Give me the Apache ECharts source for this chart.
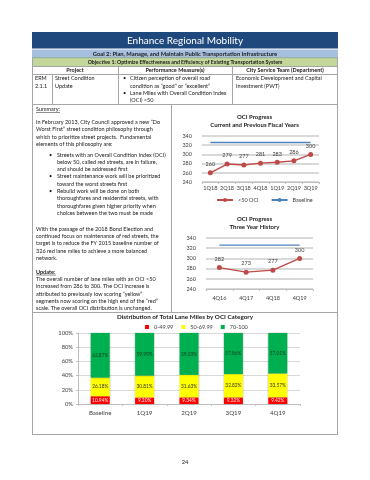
<!DOCTYPE html>
<html><head><meta charset="utf-8">
<script src="https://cdn.jsdelivr.net/npm/echarts@6/dist/echarts.min.js"></script>
<style>html,body{margin:0;padding:0;background:#fff}#c{width:370px;height:480px}</style>
</head><body><div id="c"></div>
<script>
// ---- data ----
const fiscalQuarters = ['1Q18','2Q18','3Q18','4Q18','1Q19','2Q19','3Q19'];
const fiscalOci = [260,279,277,281,283,286,300];
const fiscalBaseline = [326,326,326,326,326,326,326];
const historyYears = ['4Q16','4Q17','4Q18','4Q19'];
const historyOci = [282,273,277,300];
const historyBaseline = [326,326,326,326];
const distCategories = ['Baseline','1Q19','2Q19','3Q19','4Q19'];
const distRed = [10.94,9.20,9.34,9.32,9.42];
const distYellow = [26.18,30.81,31.63,32.82,33.57];
const distGreen = [62.87,59.99,59.03,57.86,57.01];
const ociAxis = {min:240,max:340,interval:20};
const pctAxis = {min:0,max:100,interval:20};

// ---- document graphics ----
const FONT = 'Lato, "Open Sans", sans-serif';
const G = [];
function rect(x,y,w,h,fill){G.push({type:'rect',shape:{x:x,y:y,width:w,height:h},style:{fill:fill},silent:true,z:1});}
function ln(x1,y1,x2,y2,c,w){G.push({type:'line',shape:{x1:x1,y1:y1,x2:x2,y2:y2},style:{stroke:c||'#a6a6a6',lineWidth:w||1},silent:true,z:2});}
function txt(x,y,s,o){o=o||{};G.push({type:'text',x:x,y:y,style:{text:s,fontSize:o.size||5.5,fontFamily:FONT,fontWeight:o.bold?'bold':'normal',fill:o.color||'#1a1a1a',align:o.align||'left',verticalAlign:'middle'},silent:true,z:10});}
function lines(x,y0,dy,arr,o){arr.forEach(function(s,i){txt(x,y0+i*dy,s,o);});}

// header bands
rect(32,32,306,16.5,'#1f497d');
txt(185,40.5,'Enhance Regional Mobility',{size:10,color:'#ffffff',align:'center'});
rect(32,49.5,306,8.5,'#a7bfde');
ln(32,58,338,58,'#7f9f4f',0.8);
txt(185,54,'Goal 2: Plan, Manage, and Maintain Public Transportation Infrastructure',{size:5.8,bold:true,align:'center'});
rect(32,58.5,306,7.5,'#c4d79b');
txt(185,62.3,'Objective 1: Optimize Effectiveness and Efficiency of Existing Transportation System',{size:5.2,bold:true,align:'center'});

// table lines
[66.5,74.5,104.5,312.5,434.5].forEach(function(y){ln(32,y,338,y);});
ln(32.5,58,32.5,434.5); ln(337.5,58,337.5,434.5);
ln(52.5,74.5,52.5,104.5); ln(118.5,66.5,118.5,104.5); ln(232.5,66.5,232.5,104.5);
ln(171.5,104.5,171.5,312.5);

// table header
txt(75,70.5,'Project',{bold:true,align:'center'});
txt(175,70.5,'Performance Measure(s)',{bold:true,align:'center'});
txt(285,70.5,'City Service Team (Department)',{bold:true,align:'center'});
// table row
lines(35,78.5,7.3,['ERM','2.1.1']);
lines(55,78.5,7.3,['Street Condition','Update']);
txt(123,78.5,'\u2022'); txt(123,93,'\u2022');
lines(130,78.5,7.3,['Citizen perception of overall road','condition as \u201cgood\u201d or \u201cexcellent\u201d','Lane Miles with Overall Condition Index','(OCI) <50']);
lines(236,78.5,7.3,['Economic Development and Capital','Investment (PWT)']);

// summary
txt(36,109.5,'Summary:'); ln(36,112.5,60,112.5,'#1a1a1a',0.5);
lines(36,122,7.4,['In February 2013, City Council approved a new \u201cDo','Worst First\u201d street condition philosophy through','which to prioritize street projects.  Fundamental','elements of this philosophy are:']);
[0,3,5].forEach(function(i){txt(49,154.8+i*7.3,'\u2022');});
lines(57,154.8,7.3,['Streets with an Overall Condition Index (OCI)','below 50, called red streets, are in failure,','and should be addressed first','Street maintenance work will be prioritized','toward the worst streets first','Rebuild work will be done on both','thoroughfares and residential streets, with','thoroughfares given higher priority when','choices between the two must be made']);
lines(36,229,7.3,['With the passage of the 2018 Bond Election and','continued focus on maintenance of red streets, the','target is to reduce the FY 2015 baseline number of','326 red lane miles to achieve a more balanced','network.']);
txt(36,272,'Update:',{bold:true}); ln(36,275,56,275,'#1a1a1a',0.5);
lines(36,279.5,7.2,['The overall number of lane miles with an OCI <50','increased from 286 to 300. The OCI increase is','attributed to previously low scoring \u201cyellow\u201d','segments now scoring on the high end of the \u201cred\u201d','scale. The overall OCI distribution is unchanged.']);

// chart titles
txt(254.5,117,'OCI Progress',{bold:true,align:'center',size:6});
txt(254.5,125.5,'Current and Previous Fiscal Years',{bold:true,align:'center',size:6});
txt(254.5,219.5,'OCI Progress',{bold:true,align:'center',size:6});
txt(254.5,227.5,'Three Year History',{bold:true,align:'center',size:6});
txt(185,317,'Distribution of Total Lane Miles by OCI Category',{bold:true,align:'center',size:6.3});
txt(185,462,'24',{align:'center',size:5.8});

// ---- chart ----
const axLabel = {fontSize:5.5,color:'#404040',fontFamily:FONT};
function ociY(g){return {type:'value',gridIndex:g,min:ociAxis.min,max:ociAxis.max,interval:ociAxis.interval,
  axisLine:{show:false},axisTick:{show:false},axisLabel:Object.assign({margin:10},axLabel),
  splitLine:{lineStyle:{color:'#d9d9d9',width:2}}};}
function catX(g,data,m,fs){return {type:'category',gridIndex:g,data:data,
  axisLine:{lineStyle:{color:'#bfbfbf'}},axisTick:{show:true,length:2,lineStyle:{color:'#bfbfbf'}},
  axisLabel:Object.assign({},axLabel,{margin:m,fontSize:fs||5.5,interval:0})};}
const ptLabel = {show:true,position:'top',distance:3,fontSize:5.5,color:'#404040',fontFamily:FONT};
const redLine = {color:'#be4b48',width:1.4};
const blueLine = {color:'#4f81bd',width:1.4};

const chart = echarts.init(document.getElementById('c'),null,{renderer:'canvas'});
chart.setOption({
  animation:false,
  textStyle:{fontFamily:FONT},
  graphic:G,
  grid:[
    {left:202,top:136,width:117,height:46},
    {left:206,top:238,width:107,height:51},
    {left:78,top:333,width:222,height:71}
  ],
  xAxis:[catX(0,fiscalQuarters,3),catX(1,historyYears,6),catX(2,distCategories,6,6.2)],
  yAxis:[ociY(0),ociY(1),
    {type:'value',gridIndex:2,min:pctAxis.min,max:pctAxis.max,interval:pctAxis.interval,
     axisLine:{show:true,lineStyle:{color:'#bfbfbf'}},axisTick:{show:true,length:2,lineStyle:{color:'#bfbfbf'}},
     axisLabel:Object.assign({margin:5,formatter:'{value}%'},axLabel,{fontSize:5.8}),
     splitLine:{lineStyle:{color:'#d9d9d9',width:1}}}],
  legend:[
    {data:['<50 OCI','Baseline'],left:216,top:197,padding:0,itemWidth:16,itemHeight:5,itemGap:12,
     textStyle:{fontSize:5.5,color:'#404040',fontFamily:FONT}},
    {data:['0-49.99','50-69.99','70-100'],left:145,top:324,padding:0,icon:'rect',itemWidth:4,itemHeight:4,itemGap:8,
     textStyle:{fontSize:5.5,color:'#404040',fontFamily:FONT}}
  ],
  series:[
    {name:'<50 OCI',type:'line',xAxisIndex:0,yAxisIndex:0,data:fiscalOci,symbol:'circle',symbolSize:5,
     lineStyle:redLine,itemStyle:{color:'#be4b48'},label:ptLabel,z:5},
    {name:'Baseline',type:'line',xAxisIndex:0,yAxisIndex:0,data:fiscalBaseline,symbol:'none',
     lineStyle:blueLine,itemStyle:{color:'#4f81bd'},z:4},
    {name:'History <50 OCI',type:'line',xAxisIndex:1,yAxisIndex:1,data:historyOci,symbol:'circle',symbolSize:5,
     lineStyle:redLine,itemStyle:{color:'#be4b48'},label:ptLabel,z:5},
    {name:'History Baseline',type:'line',xAxisIndex:1,yAxisIndex:1,data:historyBaseline,symbol:'none',
     lineStyle:blueLine,itemStyle:{color:'#4f81bd'},z:4},
    {name:'0-49.99',type:'bar',stack:'oci',xAxisIndex:2,yAxisIndex:2,data:distRed,barWidth:19,
     itemStyle:{color:'#ff0000',shadowBlur:2,shadowColor:'rgba(0,0,0,0.25)'},
     label:{show:true,position:'inside',fontSize:4.8,color:'#ffe8e8',fontFamily:FONT,formatter:function(p){return p.value.toFixed(2)+'%';}}},
    {name:'50-69.99',type:'bar',stack:'oci',xAxisIndex:2,yAxisIndex:2,data:distYellow,barWidth:19,
     itemStyle:{color:'#ffff00',shadowBlur:2,shadowColor:'rgba(0,0,0,0.25)'},
     label:{show:true,position:'inside',fontSize:4.8,color:'#333',fontFamily:FONT,formatter:function(p){return p.value.toFixed(2)+'%';}}},
    {name:'70-100',type:'bar',stack:'oci',xAxisIndex:2,yAxisIndex:2,data:distGreen,barWidth:19,
     itemStyle:{color:'#00b050',shadowBlur:2,shadowColor:'rgba(0,0,0,0.25)'},
     label:{show:true,position:'inside',fontSize:4.8,color:'#1a3a1a',fontFamily:FONT,formatter:function(p){return p.value.toFixed(2)+'%';}}}
  ]
});
</script></body></html>
